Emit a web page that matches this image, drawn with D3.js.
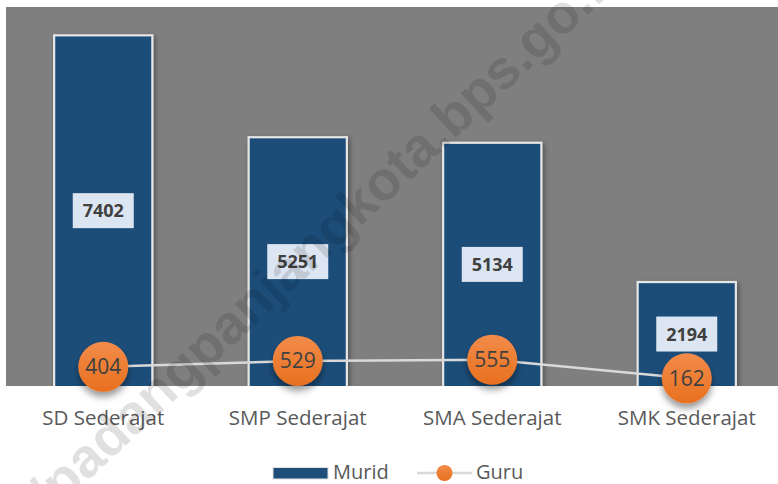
<!DOCTYPE html>
<html><head><meta charset="utf-8">
<script src="https://cdn.jsdelivr.net/npm/d3@7"></script>
<style>body{margin:0;background:#fff}svg{display:block}</style>
</head><body>
<script>
const categories = ["SD Sederajat","SMP Sederajat","SMA Sederajat","SMK Sederajat"];
const murid = [7402,5251,5134,2194];
const guru = [404,529,555,162];
const legendLabels = ["Murid","Guru"];
const watermark = "https://padangpanjangkota.bps.go.id";

const W=778,H=484;
const plot={x0:6,x1:784,y0:7,y1:386};
const svg=d3.select("body").append("svg").attr("width",W).attr("height",H);
const defs=svg.append("defs");
const sh=defs.append("filter").attr("id","sh").attr("x","-30%").attr("y","-30%").attr("width","160%").attr("height","160%");
sh.append("feDropShadow").attr("dx",2).attr("dy",2).attr("stdDeviation",2.5).attr("flood-color","#000").attr("flood-opacity",0.35);
const csh=defs.append("filter").attr("id","csh").attr("x","-40%").attr("y","-40%").attr("width","180%").attr("height","200%");
csh.append("feDropShadow").attr("dx",0).attr("dy",5).attr("stdDeviation",3.5).attr("flood-color","#000").attr("flood-opacity",0.4);
const g1=defs.append("linearGradient").attr("id","og").attr("x1",0).attr("y1",0).attr("x2",0).attr("y2",1);
g1.append("stop").attr("offset","0%").attr("stop-color","#f28c4a");
g1.append("stop").attr("offset","100%").attr("stop-color","#e8701f");

const x=d3.scaleBand().domain(categories).range([plot.x0,plot.x1]).paddingInner(0.495).paddingOuter(0.2475);
const y=d3.scaleLinear().domain([0,8000]).range([plot.y1,plot.y0]);
const clip=defs.append("clipPath").attr("id","pc");
clip.append("rect").attr("x",plot.x0).attr("y",plot.y0).attr("width",W-plot.x0).attr("height",plot.y1-plot.y0);

svg.append("rect").attr("x",plot.x0).attr("y",plot.y0).attr("width",W-plot.x0).attr("height",plot.y1-plot.y0).attr("fill","#7f7f7f");

const bars=svg.append("g").attr("clip-path","url(#pc)");
bars.selectAll("rect").data(murid).join("rect")
 .attr("x",(d,i)=>x(categories[i])).attr("y",d=>y(d))
 .attr("width",x.bandwidth()).attr("height",d=>y(0)-y(d)+2)
 .attr("fill","#1f4e79").attr("stroke","#e6e6e6").attr("stroke-width",2.2)
 .attr("filter","url(#sh)");

const font="'Open Sans', sans-serif";
const lab=svg.append("g");
murid.forEach((d,i)=>{
  const cx=x(categories[i])+x.bandwidth()/2, cy=(y(d)+y(0))/2;
  lab.append("rect").attr("x",cx-30.5).attr("y",cy-17.5).attr("width",61).attr("height",35).attr("fill","#dce6f2");
  lab.append("text").attr("x",cx).attr("y",cy+6.5).attr("text-anchor","middle")
   .attr("font-family",font).attr("font-weight","bold").attr("font-size",18).attr("fill","#404040").text(d);
});

const line=d3.line().x((d,i)=>x(categories[i])+x.bandwidth()/2).y(d=>y(d));
svg.append("path").attr("d",line(guru)).attr("fill","none").attr("stroke","#d9d9d9").attr("stroke-width",2.5);

const pts=svg.append("g");
guru.forEach((d,i)=>{
  const cx=x(categories[i])+x.bandwidth()/2, cy=y(d);
  pts.append("circle").attr("cx",cx).attr("cy",cy).attr("r",25).attr("fill","url(#og)").attr("filter","url(#csh)");
  pts.append("text").attr("x",cx).attr("y",cy+7.5).attr("text-anchor","middle")
   .attr("font-family",font).attr("font-size",21).attr("fill","#404040").text(d);
});

svg.append("g").selectAll("text").data(categories).join("text")
 .attr("x",d=>x(d)+x.bandwidth()/2).attr("y",425).attr("text-anchor","middle")
 .attr("font-family",font).attr("font-size",20.5).attr("fill","#595959").text(d=>d);

// legend
const lg=svg.append("g");
lg.append("rect").attr("x",273).attr("y",467.5).attr("width",55).attr("height",11.5).attr("fill","#1f4e79").attr("stroke","#e0e0e0").attr("stroke-width",1);
lg.append("text").attr("x",333).attr("y",478.5).attr("font-family",font).attr("font-size",20).attr("fill","#595959").text(legendLabels[0]);
lg.append("line").attr("x1",417).attr("x2",472).attr("y1",473).attr("y2",473).attr("stroke","#d9d9d9").attr("stroke-width",2.5);
lg.append("circle").attr("cx",444.5).attr("cy",473).attr("r",8).attr("fill","url(#og)");
lg.append("text").attr("x",476).attr("y",478.5).attr("font-family",font).attr("font-size",20).attr("fill","#595959").text(legendLabels[1]);

// watermark
svg.append("text").attr("transform","translate(-72,630) rotate(-43)").attr("text-anchor","start")
 .attr("font-family","'Liberation Sans', Arial, sans-serif").attr("font-weight","bold").attr("font-size",55)
 .attr("fill","#000").attr("fill-opacity",0.12).text(watermark);
</script>
</body></html>
